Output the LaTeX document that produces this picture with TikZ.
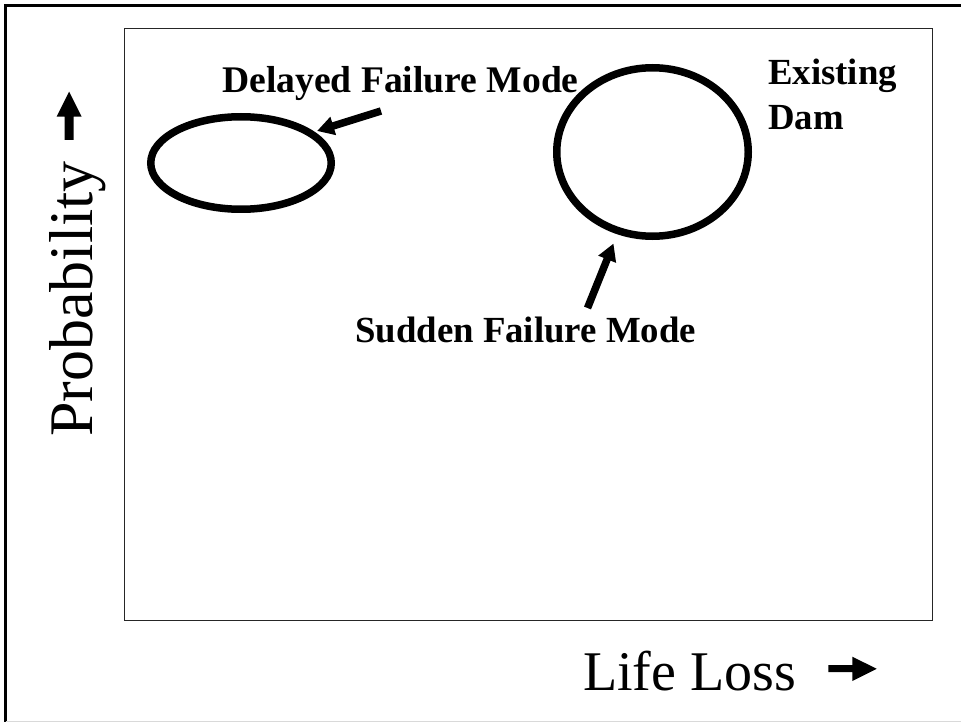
\documentclass[tikz,border=0pt]{standalone}
\usepackage{fontspec}
\setmainfont{Liberation Serif}
\usetikzlibrary{arrows.meta,shapes.geometric}
\tikzset{
  lbl/.style={anchor=base west, inner sep=0pt, font=\fontsize{36.8}{45}\selectfont\bfseries},
  axislbl/.style={anchor=base west, inner sep=0pt},
  ring/.style={draw, ellipse, line width=7.5pt, inner sep=0pt},
  pointer/.style={line width=7.5pt, -{Triangle[length=17pt,width=18pt]}},
  frameline/.style={line width=3pt, black},
}
\begin{document}
\begin{tikzpicture}[x=1pt,y=-1pt]
\useasboundingbox (0,0) rectangle (961,722);
% outer frame
\draw[frameline] (5.5,722) -- (5.5,5.5) -- (962,5.5);
\draw[black!15, line width=1pt] (5.5,721) -- (961,721);
% inner plot box
\draw[black!85, line width=1.3pt] (124.5,28.5) rectangle (932.5,620.5);
% failure mode rings
\node[ring, minimum width=180.5pt, minimum height=92.5pt] (delayed) at (241,163) {};
\node[ring, minimum width=191.5pt, minimum height=168.5pt] (sudden) at (652.5,152) {};
% labels
\node[lbl, font=\fontsize{37.6}{45}\selectfont\bfseries] (dlabel) at (222,93) {Delayed Failure Mode};
\node[lbl] (slabel) at (355,342) {Sudden Failure Mode};
\node[lbl] (exist1) at (768,85) {Existing};
\node[lbl] (exist2) at (768,130) {Dam};
% pointers
\coordinate (dtail) at (381,111);
\coordinate (dtip) at (317,131);
\coordinate (stail) at (587.5,308);
\coordinate (stip) at (613.5,243.5);
\draw[pointer] (dtail) -- (dtip);
\draw[pointer] (stail) -- (stip);
% axis labels
\node[axislbl, rotate=90, font=\fontsize{62}{70}\selectfont] (ylabel) at (92,437) {Probability};
\node[axislbl, font=\fontsize{56}{64}\selectfont] (xlabel) at (583,690) {Life Loss};
% axis arrows
\fill (64.6,140) -- (73.6,140) -- (73.6,116.7) -- (81.7,116.7) -- (69.1,91.7) -- (56.6,116.7) -- (64.6,116.7) -- cycle;
\fill (828.3,665) -- (852.3,665) -- (852.3,656.7) -- (876.7,668.8) -- (852.3,681) -- (852.3,672) -- (828.3,672) -- cycle;
\end{tikzpicture}
\end{document}
